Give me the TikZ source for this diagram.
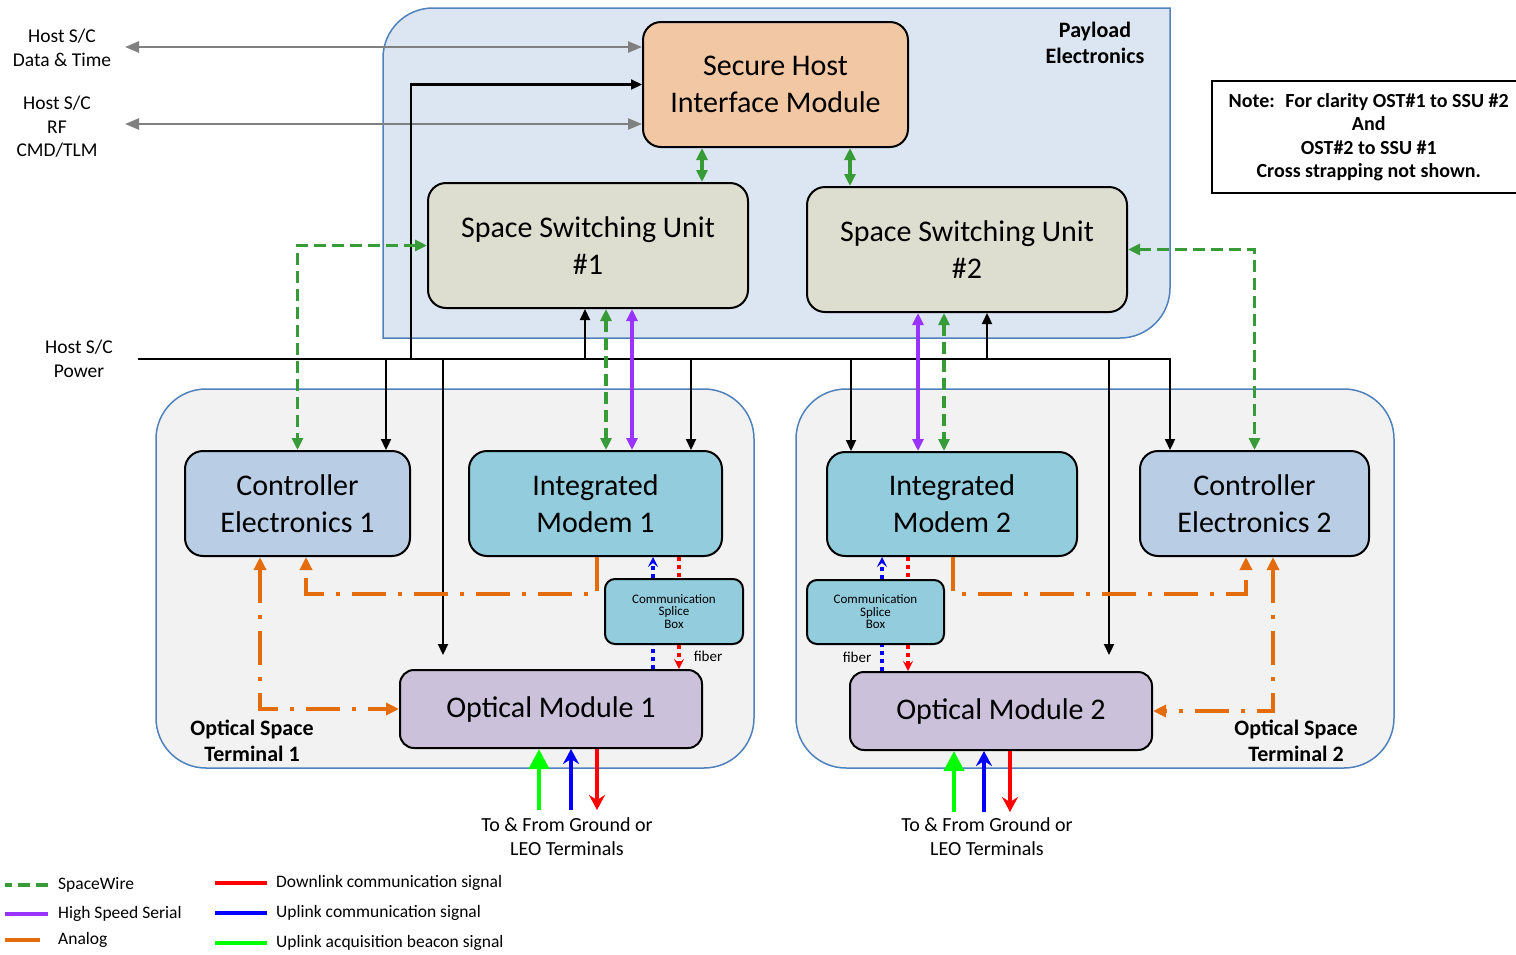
\documentclass[tikz,border=0pt]{standalone}
\usepackage{fontspec}
\setmainfont{Carlito}
\usetikzlibrary{arrows.meta}
\definecolor{peBlue}{RGB}{220,230,242}
\definecolor{edge}{RGB}{79,129,189}
\definecolor{ostGray}{RGB}{242,242,242}
\definecolor{shimFill}{RGB}{242,199,164}
\definecolor{ssuFill}{RGB}{221,221,208}
\definecolor{ceFill}{RGB}{185,205,229}
\definecolor{imFill}{RGB}{147,205,221}
\definecolor{omFill}{RGB}{204,193,218}
\definecolor{swGreen}{RGB}{55,155,55}
\definecolor{hsPurple}{RGB}{153,51,255}
\definecolor{anOrange}{RGB}{228,108,10}
\definecolor{beamGreen}{RGB}{0,255,0}
\definecolor{beamBlue}{RGB}{0,0,255}
\definecolor{beamRed}{RGB}{255,0,0}

\begin{document}
\begin{tikzpicture}[x=1pt,y=-1pt,%
% common options for the boxes:
unit/.style = {draw, line width=2pt, rounded corners=18pt, align=center, inner sep=0,
            font=\fontsize{30}{37}\selectfont},
splice/.style = {draw, line width=2pt, rounded corners=10pt, align=center, inner sep=0,
            fill=imFill, minimum width=138pt, minimum height=65pt,
            font=\fontsize{13}{12.5}\selectfont},
ost/.style = {draw=edge, line width=1.5pt, fill=ostGray, rounded corners=50pt,
            minimum width=598pt, minimum height=379pt},
% common options for the texts:
txt/.style = {align=center, inner sep=0, font=\fontsize{19.5}{23.5}\selectfont},
bold/.style = {align=center, inner sep=0, font=\bfseries\fontsize{22}{26}\selectfont},
leg/.style = {anchor=west, inner sep=0, font=\fontsize{17.5}{21}\selectfont},
% common options for the lines:
pwr/.style = {line width=2.2pt, >={Triangle[length=11pt,width=10pt]}},
gry/.style = {line width=2.5pt, gray, >={Triangle[length=14pt,width=11pt]}},
sw/.style = {line width=3.5pt, swGreen, dash pattern=on 12pt off 6pt,
            >={Triangle[length=12pt,width=11pt]}},
swl/.style = {line width=3.5pt, swGreen, >={Triangle[length=12pt,width=11pt]}},
hss/.style = {line width=3.5pt, hsPurple, >={Triangle[length=12pt,width=11pt]}},
ana/.style = {line width=3.5pt, anOrange, dash pattern=on 34pt off 12pt on 4pt off 12pt,
            >={Triangle[length=13pt,width=12pt]}},
fib/.style = {line width=3.5pt, dash pattern=on 4pt off 4pt,
            >={Stealth[length=10pt,width=10pt,inset=4pt]}},
beam/.style = {line width=4pt, >={Stealth[length=15pt,width=16pt,inset=5pt]}}]
\useasboundingbox (0,0) rectangle (1516,954);
% payload electronics
\draw[draw=edge, line width=1.5pt, fill=peBlue] (383,338) -- (383,58)
    arc[start angle=180, end angle=90, radius=50pt] -- (1170,8) -- (1170,288)
    arc[start angle=0, end angle=-90, radius=50pt] -- cycle;
\node[bold] (PEl) at (1095,43) {Payload\\Electronics};
\node[ost] (T1) at (455,578.5) {};
\node[ost] (T2) at (1095,578.5) {};
\node[bold] (T1l) at (252,741) {Optical Space\\Terminal 1};
\node[bold] (T2l) at (1296,741) {Optical Space\\Terminal 2};
\node[draw, line width=1.5pt, anchor=west, minimum width=314pt, minimum height=112pt,
    align=center, inner sep=0, font=\bfseries\fontsize{20}{23.5}\selectfont] (NT) at (1211,137)
    {Note:~ For clarity OST\#1 to SSU \#2\\And\\OST\#2 to SSU \#1\\Cross strapping not shown.};
% host side
\node[txt] (HD) at (62,48) {Host S/C\\Data \& Time};
\node[txt] (HR) at (57,127) {Host S/C\\RF\\CMD/TLM};
\node[txt] (HP) at (79,359) {Host S/C\\Power};
\coordinate (dt) at (125,47);
\coordinate (rf) at (125,124);
\coordinate (bus0) at (138,359);
% units
\node[unit, fill=shimFill, minimum width=265pt, minimum height=125pt] (SH) at (775.5,84.5) {Secure Host\\Interface Module};
\node[unit, fill=ssuFill, minimum width=320pt, minimum height=125pt] (S1) at (588,245.5) {Space Switching Unit\\\#1};
\node[unit, fill=ssuFill, minimum width=320pt, minimum height=125pt] (S2) at (967,249.5) {Space Switching Unit\\\#2};
\node[unit, fill=ceFill, minimum width=225pt, minimum height=105pt] (CE1) at (297.5,503.5) {Controller\\Electronics 1};
\node[unit, fill=imFill, minimum width=253pt, minimum height=105pt] (IM1) at (595.5,503.5) {Integrated\\Modem 1};
\node[splice] (CS1) at (674,611.5) {Communication\\Splice\\Box};
\node[unit, fill=omFill, minimum width=302pt, minimum height=78pt, rounded corners=14pt] (OM1) at (551,709) {Optical Module 1};
\node[unit, fill=imFill, minimum width=250pt, minimum height=104pt] (IM2) at (952,504) {Integrated\\Modem 2};
\node[unit, fill=ceFill, minimum width=229pt, minimum height=105pt] (CE2) at (1254.5,503.5) {Controller\\Electronics 2};
\node[splice, minimum width=137pt, minimum height=64pt] (CS2) at (875.5,612) {Communication\\Splice\\Box};
\node[unit, fill=omFill, minimum width=302pt, minimum height=78pt, rounded corners=14pt] (OM2) at (1001,711) {Optical Module 2};
\node[txt, font=\fontsize{15}{18}\selectfont] (F1) at (708,656) {fiber};
\node[txt, font=\fontsize{15}{18}\selectfont] (F2) at (857,657) {fiber};
\node[txt, font=\fontsize{20}{24}\selectfont] (GT1) at (567,837) {To \& From Ground or\\LEO Terminals};
\node[txt, font=\fontsize{20}{24}\selectfont] (GT2) at (987,837) {To \& From Ground or\\LEO Terminals};
\coordinate (G1) at (567,810);
\coordinate (G2) at (987,812);
% host lines and power
\draw[gry,<->] (dt) -- (SH.west |- dt);
\draw[gry,<->] (rf) -- (SH.west |- rf);
\draw[pwr,->] (bus0) -| (CE2.north -| 1170,0);
\draw[pwr,->] (bus0 -| 411,0) |- (SH.west);
\draw[pwr,->] (bus0 -| 386,0) -- (CE1.north -| 386,0);
\draw[pwr,->, shorten >=14pt] (bus0 -| 443,0) -- (OM1.north -| 443,0);
\draw[pwr,->] (bus0 -| 585,0) -- (S1.south -| 585,0);
\draw[pwr,->] (bus0 -| 691,0) -- (IM1.north -| 691,0);
\draw[pwr,->] (bus0 -| 851,0) -- (IM2.north -| 851,0);
\draw[pwr,->] (bus0 -| 987,0) -- (S2.south -| 987,0);
\draw[pwr,->, shorten >=16pt] (bus0 -| 1109,0) -- (OM2.north -| 1109,0);
% spacewire and high speed serial
\draw[swl,<->] (SH.south -| 702,0) -- (S1.north -| 702,0);
\draw[swl,<->] (SH.south -| 850,0) -- (S2.north -| 850,0);
\draw[sw,<->] (S1.west) -| (CE1.north);
\draw[sw,<->] (S2.east) -| (CE2.north);
\draw[sw,<->] (S1.south -| 606,0) -- (IM1.north -| 606,0);
\draw[hss,<->] (S1.south -| 632,0) -- (IM1.north -| 632,0);
\draw[hss,<->] (S2.south -| 918,0) -- (IM2.north -| 918,0);
\draw[sw,<->] (S2.south -| 944,0) -- (IM2.north -| 944,0);
% analog
\draw[ana,->] (IM1.south -| 597,0) -- ++(0,37) -| (CE1.south -| 306,0);
\draw[ana,<->] (CE1.south -| 260,0) |- (OM1.west);
\draw[ana,->] (IM2.south -| 953,0) -- ++(0,37) -| (CE2.south -| 1246,0);
\draw[ana,<->] (CE2.south -| 1273,0) |- (OM2.east);
% fiber
\draw[fib,beamBlue,->] (CS1.north -| 653,0) -- (IM1.south -| 653,0);
\draw[fib,beamRed] (IM1.south -| 679,0) -- (CS1.north -| 679,0);
\draw[fib,beamBlue] (OM1.north -| 653,0) -- (CS1.south -| 653,0);
\draw[fib,beamRed,->] (CS1.south -| 679,0) -- (OM1.north -| 679,0);
\draw[fib,beamBlue,->] (CS2.north -| 882,0) -- (IM2.south -| 882,0);
\draw[fib,beamRed] (IM2.south -| 908,0) -- (CS2.north -| 908,0);
\draw[fib,beamBlue] (OM2.north -| 882,0) -- (CS2.south -| 882,0);
\draw[fib,beamRed,->] (CS2.south -| 908,0) -- (OM2.north -| 908,0);
% to and from ground
\draw[beam,beamGreen,>={Triangle[length=20pt,width=20pt]},->] (G1 -| 539,0) -- (OM1.south -| 539,0);
\draw[beam,beamBlue,->] (G1 -| 571,0) -- (OM1.south -| 571,0);
\draw[beam,beamRed,->] (OM1.south -| 597,0) -- (G1 -| 597,0);
\draw[beam,beamGreen,>={Triangle[length=20pt,width=20pt]},->] (G2 -| 954,0) -- (OM2.south -| 954,0);
\draw[beam,beamBlue,->] (G2 -| 984,0) -- (OM2.south -| 984,0);
\draw[beam,beamRed,->] (OM2.south -| 1010,0) -- (G2 -| 1010,0);
% legend
\node[leg] (L1) at (58,885) {SpaceWire};
\node[leg] (L2) at (58,914) {High Speed Serial};
\node[leg] (L3) at (58,940) {Analog};
\node[leg] (L4) at (276,883) {Downlink communication signal};
\node[leg] (L5) at (276,913) {Uplink communication signal};
\node[leg] (L6) at (276,943) {Uplink acquisition beacon signal};
\draw[sw, line width=4pt] (L1.west) ++(-10,0) -- ++(-43,0);
\draw[hss, line width=4.5pt] (L2.west) ++(-10,0) -- ++(-43,0);
\draw[anOrange, line width=4.5pt] (L3.west) ++(-18,0) -- ++(-35,0);
\draw[beamRed, line width=4.5pt] (L4.west) ++(-9,0) -- ++(-52,0);
\draw[beamBlue, line width=4.5pt] (L5.west) ++(-9,0) -- ++(-52,0);
\draw[beamGreen, line width=4.5pt] (L6.west) ++(-9,0) -- ++(-52,0);
\end{tikzpicture}
\end{document}
